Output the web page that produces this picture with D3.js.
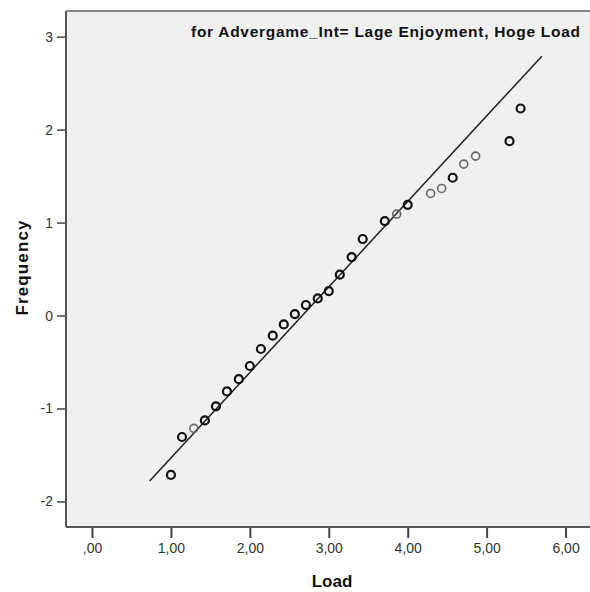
<!DOCTYPE html>
<html>
<head>
<meta charset="utf-8">
<script src="https://cdn.jsdelivr.net/npm/d3@7"></script>
<style>
  html, body { margin: 0; padding: 0; background: #fff; }
  svg { display: block; }
</style>
</head>
<body>
<svg id="chart" width="590" height="592"></svg>
<script>
// Observed Load values (sorted) and their expected normal quantiles
const loadValues = [1.00, 1.14, 1.29, 1.43, 1.57, 1.71, 1.86, 2.00, 2.14, 2.29,
                    2.43, 2.57, 2.71, 2.86, 3.00, 3.14, 3.29, 3.43, 3.71, 3.86,
                    4.00, 4.29, 4.43, 4.57, 4.71, 4.86, 5.29, 5.43];
const expectedValues = [-1.715, -1.307, -1.214, -1.128, -0.977, -0.816, -0.685, -0.543, -0.360, -0.217,
                        -0.096, 0.016, 0.113, 0.184, 0.263, 0.439, 0.629, 0.823, 1.016, 1.091,
                        1.191, 1.313, 1.367, 1.482, 1.629, 1.715, 1.876, 2.227];
// Number of cases sharing each value (tied cases overprint)
const caseCounts = [2, 2, 1, 2, 2, 2, 2, 2, 2, 2,
                    2, 2, 2, 2, 2, 2, 2, 2, 2, 1,
                    2, 1, 1, 2, 1, 1, 2, 2];
// Reference line endpoints
const refLineX = [0.73, 5.70];
const refLineY = [-1.78, 2.79];

const xTicks = [0, 1, 2, 3, 4, 5, 6];
const yTicks = [-2, -1, 0, 1, 2, 3];
const titleText = "for Advergame_Int= Lage Enjoyment, Hoge Load";
const xLabel = "Load";
const yLabel = "Frequency";

const svg = d3.select("#chart");
const plot = { left: 66, top: 11, right: 592, bottom: 527 };

const x = d3.scaleLinear().domain([-0.3295, 6.335]).range([plot.left, plot.right]);
const y = d3.scaleLinear().domain([-2.275, 3.276]).range([plot.bottom, plot.top]);

// Plot background
svg.append("rect")
  .attr("x", plot.left).attr("y", plot.top)
  .attr("width", plot.right - plot.left).attr("height", plot.bottom - plot.top)
  .attr("fill", "#f0f0f0");

const fmt = d => (d === 0 ? ",00" : d.toFixed(2).replace(".", ","));

// X axis
const xAxis = svg.append("g")
  .attr("transform", `translate(0,${plot.bottom})`)
  .call(d3.axisBottom(x).tickValues(xTicks).tickSize(11).tickPadding(5).tickFormat(fmt));
xAxis.select(".domain").remove();
xAxis.selectAll(".tick line").attr("stroke", "#444").attr("stroke-width", 2);
xAxis.selectAll(".tick text")
  .attr("fill", "#333")
  .style("font-family", "'Liberation Sans', Arial, sans-serif")
  .style("font-size", "14px");

// Y axis
const yAxis = svg.append("g")
  .attr("transform", `translate(${plot.left},0)`)
  .call(d3.axisLeft(y).tickValues(yTicks).tickSize(9).tickPadding(4).tickFormat(d => String(d)));
yAxis.select(".domain").remove();
yAxis.selectAll(".tick line").attr("stroke", "#444").attr("stroke-width", 1.5);
yAxis.selectAll(".tick text")
  .attr("fill", "#333")
  .style("font-family", "'Liberation Sans', Arial, sans-serif")
  .style("font-size", "14px");

// Frame lines (left and bottom, top edge)
svg.append("line")
  .attr("x1", plot.left).attr("x2", plot.left)
  .attr("y1", plot.top).attr("y2", plot.bottom)
  .attr("stroke", "#555").attr("stroke-width", 2);
svg.append("line")
  .attr("x1", plot.left).attr("x2", plot.right)
  .attr("y1", plot.bottom).attr("y2", plot.bottom)
  .attr("stroke", "#555").attr("stroke-width", 2);
svg.append("line")
  .attr("x1", plot.left).attr("x2", plot.right)
  .attr("y1", plot.top).attr("y2", plot.top)
  .attr("stroke", "#888").attr("stroke-width", 2);

// Reference line
svg.append("line")
  .attr("x1", x(refLineX[0])).attr("y1", y(refLineY[0]))
  .attr("x2", x(refLineX[1])).attr("y2", y(refLineY[1]))
  .attr("stroke", "#222").attr("stroke-width", 1.5);

// Points
const pts = loadValues.map((v, i) => ({ v, e: expectedValues[i], n: caseCounts[i] }));
svg.append("g").selectAll("circle")
  .data(pts)
  .join("circle")
  .attr("cx", d => x(d.v))
  .attr("cy", d => y(d.e))
  .attr("r", 4)
  .attr("fill", "none")
  .attr("stroke", d => d.n > 1 ? "#111" : "#666")
  .attr("stroke-width", d => d.n > 1 ? 2.2 : 1.6);

// Title inside plot
svg.append("text")
  .attr("x", 580).attr("y", 37)
  .attr("text-anchor", "end")
  .attr("textLength", 389)
  .attr("lengthAdjust", "spacing")
  .style("font-family", "'Liberation Sans', Arial, sans-serif")
  .style("font-size", "15.5px")
  .style("font-weight", "bold")
  .attr("fill", "#111")
  .text(titleText);

// Axis titles
svg.append("text")
  .attr("x", 332).attr("y", 587)
  .attr("text-anchor", "middle")
  .style("font-family", "'Liberation Sans', Arial, sans-serif")
  .style("font-size", "17px")
  .style("font-weight", "bold")
  .attr("fill", "#111")
  .text(xLabel);

svg.append("text")
  .attr("transform", "translate(28,268) rotate(-90)")
  .attr("text-anchor", "middle")
  .attr("textLength", 95)
  .attr("lengthAdjust", "spacing")
  .style("font-family", "'Liberation Sans', Arial, sans-serif")
  .style("font-size", "17px")
  .style("font-weight", "bold")
  .attr("fill", "#111")
  .text(yLabel);
</script>
</body>
</html>
